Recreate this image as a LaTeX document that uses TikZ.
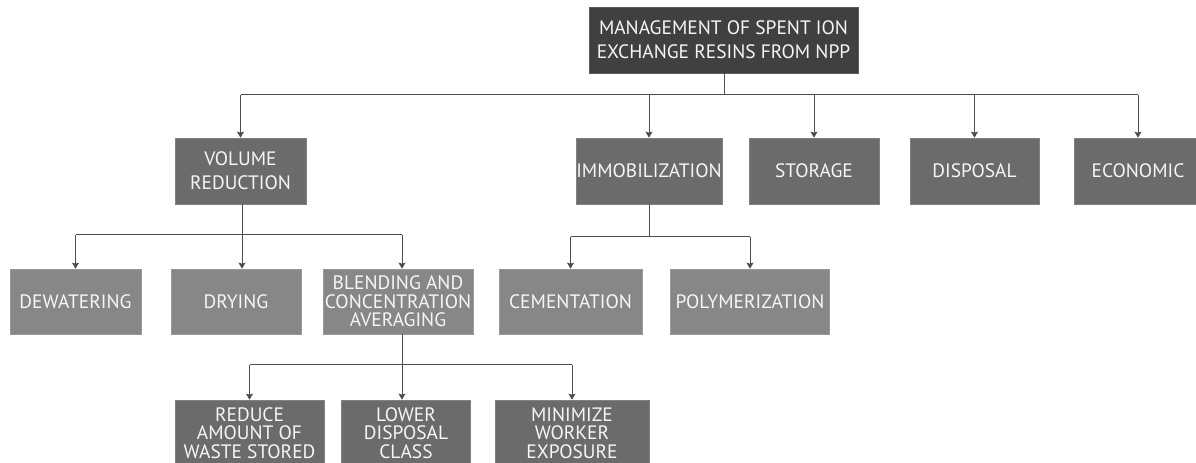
\documentclass[tikz,border=0pt]{standalone}
\usepackage{fontspec}
\setmainfont{PT Sans}
\usetikzlibrary{arrows.meta}
\definecolor{topc}{HTML}{404040}
\definecolor{midc}{HTML}{6B6B6B}
\definecolor{lowc}{HTML}{878787}
\definecolor{linec}{HTML}{4D4D4D}
\definecolor{txtc}{HTML}{F6F6F6}
\begin{document}
\begin{tikzpicture}[x=1bp,y=-1bp,
  basebox/.style={rectangle, inner sep=0pt, text=txtc, align=center,
    draw=#1!85!white, line width=0.6bp, fill=#1},
  topbox/.style={basebox=topc, minimum width=269bp, minimum height=66bp,
    font=\fontsize{19.5}{24}\selectfont},
  midbox/.style={basebox=midc, minimum height=66bp, font=\fontsize{19.5}{24}\selectfont},
  lowbox/.style={basebox=lowc, minimum height=65bp, font=\fontsize{19.5}{18.5}\selectfont},
  leafbox/.style={basebox=midc, minimum height=66bp, font=\fontsize{19.5}{18.5}\selectfont},
  conn/.style={draw=linec, line width=1bp},
  arr/.style={conn, -{Stealth[length=6bp,width=7bp,inset=1bp]}}]
\useasboundingbox (0,0) rectangle (1196,463);
\clip (0,0) rectangle (1196,463);
\fill[white] (0,0) rectangle (1196,463);

% nodes
\node[topbox] (top) at (723.5,40) {MANAGEMENT OF SPENT ION\\EXCHANGE RESINS FROM NPP};
\node[midbox, minimum width=131bp] (vr) at (240.5,171) {VOLUME\\REDUCTION};
\node[midbox, minimum width=146bp] (imm) at (649,171) {IMMOBILIZATION};
\node[midbox, minimum width=130bp] (sto) at (814,171) {STORAGE};
\node[midbox, minimum width=129bp] (dis) at (974.5,171) {DISPOSAL};
\node[midbox, minimum width=128bp] (eco) at (1138,171) {ECONOMIC};

\node[lowbox, minimum width=131bp] (dew) at (75.5,301.5) {DEWATERING};
\node[lowbox, minimum width=130bp] (dry) at (236,301.5) {DRYING};
\node[lowbox, minimum width=150bp] (ble) at (398,301.5) {BLENDING AND\\CONCENTRATION\\AVERAGING};
\node[lowbox, minimum width=143bp] (cem) at (570.5,301.5) {CEMENTATION};
\node[lowbox, minimum width=159bp] (pol) at (750,301.5) {POLYMERIZATION};

\node[leafbox, minimum width=149bp] (red) at (249.5,433) {REDUCE\\AMOUNT OF\\WASTE STORED};
\node[leafbox, minimum width=129bp] (low) at (406,433) {LOWER\\DISPOSAL\\CLASS};
\node[leafbox, minimum width=154bp] (min) at (572,433) {MINIMIZE\\WORKER\\EXPOSURE};

% junctions
\coordinate (j0) at (724,95);
\coordinate (j1) at (242,235);
\coordinate (j1b) at (402,235);
\coordinate (j2) at (649,237);
\coordinate (j3) at (402,365);

% top level
\draw[conn] (top.south -| j0) -- (j0);
\draw[conn] (vr.north |- j0) -- (eco.north |- j0);
\foreach \n in {vr,imm,sto,dis,eco}
  \draw[arr] (\n.north |- j0) -- (\n.north);

% volume reduction
\draw[conn] (vr.south -| j1) -- (j1);
\draw[conn] (dew.north |- j1) -- (j1b);
\draw[arr] (dew.north |- j1) -- (dew.north);
\draw[arr] (j1) -- (j1 |- dry.north);
\draw[arr] (j1b) -- (j1b |- ble.north);

% immobilization
\draw[conn] (imm.south) -- (j2);
\draw[conn] (cem.north |- j2) -- (pol.north |- j2);
\draw[arr] (cem.north |- j2) -- (cem.north);
\draw[arr] (pol.north |- j2) -- (pol.north);

% blending
\draw[conn] (ble.south -| j3) -- (j3);
\draw[conn] (red.north |- j3) -- (min.north |- j3);
\draw[arr] (red.north |- j3) -- (red.north);
\draw[arr] (j3) -- (j3 |- low.north);
\draw[arr] (min.north |- j3) -- (min.north);
\end{tikzpicture}
\end{document}
